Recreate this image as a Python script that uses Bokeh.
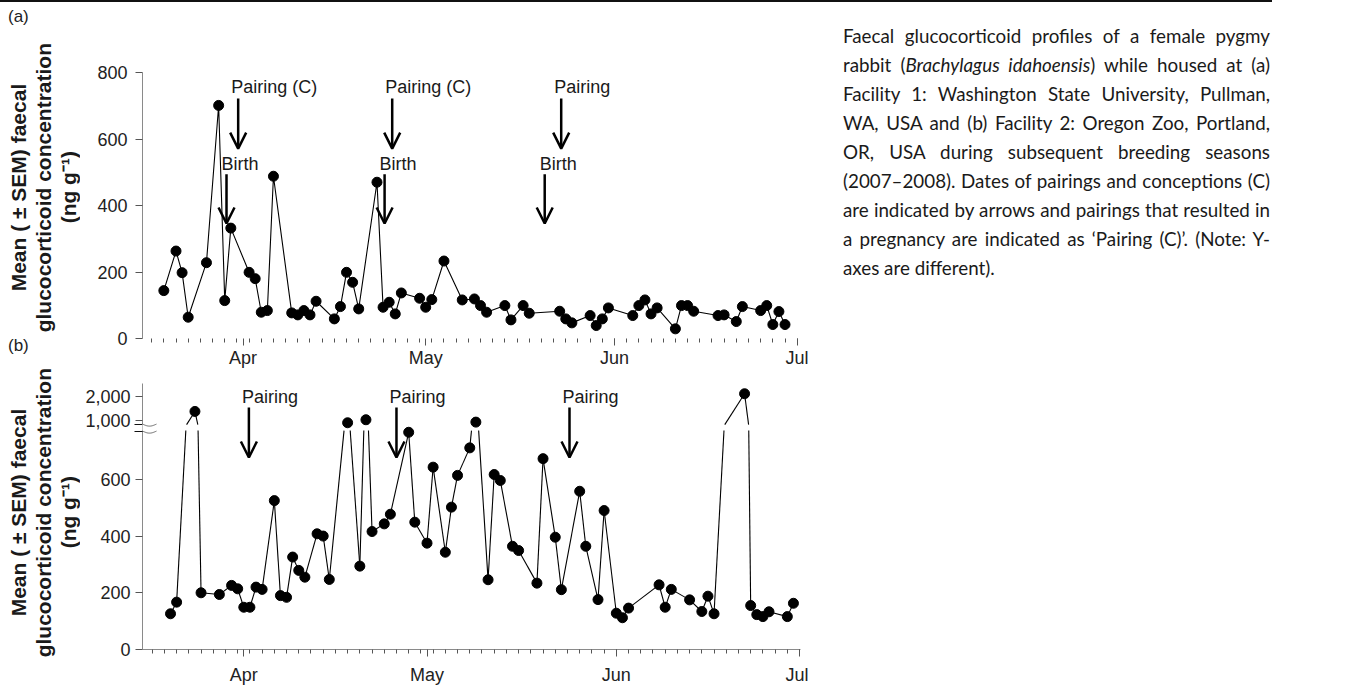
import pandas as pd
from bokeh.plotting import figure
from bokeh.models import (Range1d, FixedTicker, Arrow, OpenHead, Label, PolyAnnotation,
                          Div, DatetimeTickFormatter)
from bokeh.layouts import column, row
from bokeh.embed import file_html
from bokeh.resources import INLINE
import numpy as np

# ---------------- data ----------------
# Panel (a): Facility 1, 2007
a_dates = ["2007-03-19", "2007-03-21", "2007-03-22", "2007-03-23", "2007-03-26", "2007-03-28",
           "2007-03-29", "2007-03-30", "2007-04-02", "2007-04-03", "2007-04-04", "2007-04-05",
           "2007-04-06", "2007-04-09", "2007-04-10", "2007-04-11", "2007-04-12", "2007-04-13",
           "2007-04-16", "2007-04-17", "2007-04-18", "2007-04-19", "2007-04-20", "2007-04-23",
           "2007-04-24", "2007-04-25", "2007-04-26", "2007-04-27", "2007-04-30", "2007-05-01",
           "2007-05-02", "2007-05-04", "2007-05-07", "2007-05-09", "2007-05-10", "2007-05-11",
           "2007-05-14", "2007-05-15", "2007-05-17", "2007-05-18", "2007-05-23", "2007-05-24",
           "2007-05-25", "2007-05-28", "2007-05-29", "2007-05-30", "2007-05-31", "2007-06-04",
           "2007-06-05", "2007-06-06", "2007-06-07", "2007-06-08", "2007-06-11", "2007-06-12",
           "2007-06-13", "2007-06-14", "2007-06-18", "2007-06-19", "2007-06-21", "2007-06-22",
           "2007-06-25", "2007-06-26", "2007-06-27", "2007-06-28", "2007-06-29"]
a_values = [144, 263, 198, 64, 228, 701,
            114, 332, 199, 180, 79, 84,
            488, 77, 71, 84, 71, 112,
            59, 96, 199, 169, 89, 470,
            94, 109, 74, 137, 121, 94,
            117, 233, 116, 119, 99, 79,
            99, 56, 99, 76, 82, 59,
            47, 69, 39, 59, 92, 69,
            99, 116, 74, 92, 29, 99,
            99, 82, 69, 71, 51, 96,
            84, 99, 42, 81, 42]

# Panel (b): Facility 2, 2008
b_dates = ["2008-03-20", "2008-03-21", "2008-03-24", "2008-03-25", "2008-03-28", "2008-03-30",
           "2008-03-31", "2008-04-01", "2008-04-02", "2008-04-03", "2008-04-04", "2008-04-06",
           "2008-04-07", "2008-04-08", "2008-04-09", "2008-04-10", "2008-04-11", "2008-04-13",
           "2008-04-14", "2008-04-15", "2008-04-18", "2008-04-20", "2008-04-21", "2008-04-22",
           "2008-04-24", "2008-04-25", "2008-04-28", "2008-04-29", "2008-05-01", "2008-05-02",
           "2008-05-04", "2008-05-05", "2008-05-06", "2008-05-08", "2008-05-09", "2008-05-11",
           "2008-05-12", "2008-05-13", "2008-05-15", "2008-05-16", "2008-05-19", "2008-05-20",
           "2008-05-22", "2008-05-23", "2008-05-26", "2008-05-27", "2008-05-29", "2008-05-30",
           "2008-06-01", "2008-06-02", "2008-06-03", "2008-06-08", "2008-06-09", "2008-06-10",
           "2008-06-13", "2008-06-15", "2008-06-16", "2008-06-17", "2008-06-22", "2008-06-23",
           "2008-06-24", "2008-06-25", "2008-06-26", "2008-06-29", "2008-06-30"]
b_values = [126, 167, 1372, 200, 194, 226,
            214, 149, 149, 220, 212, 525,
            190, 184, 326, 279, 255, 408,
            400, 247, 900, 294, 1026, 416,
            443, 477, 766, 449, 375, 643,
            343, 502, 614, 711, 927, 246,
            617, 596, 364, 349, 234, 673,
            396, 211, 558, 364, 176, 490,
            128, 112, 146, 228, 149, 212,
            175, 134, 188, 126, 2110, 155,
            123, 116, 133, 116, 163]

# events (arrows)
a_event_labels = ["Pairing (C)", "Birth", "Pairing (C)", "Birth", "Pairing", "Birth"]
a_event_dates = ["2007-03-31 05:00", "2007-03-29 07:00", "2007-04-25 12:00",
                 "2007-04-24 06:00", "2007-05-23 06:00", "2007-05-20 13:00"]
b_event_labels = ["Pairing", "Pairing", "Pairing"]
b_event_dates = ["2008-04-01 20:00", "2008-04-26 00:00", "2008-05-24 08:00"]

a_yticks = [0, 200, 400, 600, 800]
b_yticks_low = [0, 200, 400, 600]
b_yticks_high = [1000, 2000]

caption_lines = [
    "Faecal glucocorticoid profiles of a female pygmy",
    "rabbit (<i>Brachylagus idahoensis</i>) while housed at (a)",
    "Facility 1: Washington State University, Pullman,",
    "WA, USA and (b) Facility 2: Oregon Zoo, Portland,",
    "OR, USA during subsequent breeding seasons",
    "(2007&ndash;2008). Dates of pairings and conceptions (C)",
    "are indicated by arrows and pairings that resulted in",
    "a pregnancy are indicated as &lsquo;Pairing (C)&rsquo;. (Note: Y-",
    "axes are different).",
]

YLABEL_LINES = ["Mean ( \u00b1 SEM) faecal", "glucocorticoid concentration", "(ng g\u207b\u00b9)"]
FONT = "Liberation Sans"
DAY = 86400000.0
LEFT_W = 81             # width of the left strip (panel letters + y titles)
FIG_LEFT = 142 - LEFT_W  # left border of both figures -> frames start at x = 142
PX_DAY_A, PX_DAY_B = 6.09, 6.107


def ms(s):
    return pd.Timestamp(s).value / 1e6


# ---------------- broken axis mapping for (b) ----------------
GAP_LO, GAP_HI = 772.0, 793.0
P1000, K = 808.0, 0.0846
U_VAL = 1000 + (GAP_HI - P1000) / K


def to_plot(v):
    return v if v <= GAP_LO else P1000 + (v - 1000) * K


def style_common(p, xlab_standoff, show_xline, ylab_standoff):
    p.grid.visible = False
    p.outline_line_color = None
    p.background_fill_color = "white"
    p.border_fill_color = "white"
    xa = p.xaxis[0]
    xa.axis_line_color = "#8a8a8a" if show_xline else None
    xa.major_tick_line_color = "#555"
    xa.minor_tick_line_color = "#555"
    xa.major_tick_in = 0
    xa.major_tick_out = 7
    xa.minor_tick_in = 0
    xa.minor_tick_out = 4
    xa.major_label_text_font = FONT
    xa.major_label_text_font_size = "18px"
    xa.major_label_text_color = "#222"
    xa.major_label_standoff = xlab_standoff
    ya = p.yaxis[0]
    ya.axis_line_color = "#8a8a8a"
    ya.major_tick_line_color = "#555"
    ya.minor_tick_line_color = None
    ya.major_tick_in = 0
    ya.major_tick_out = 7
    ya.major_label_text_font = FONT
    ya.major_label_text_font_size = "18px"
    ya.major_label_text_color = "#222"
    ya.major_label_standoff = ylab_standoff


def setup_x(p, year):
    majors = [ms(f"{year}-{m:02d}-01") for m in (4, 5, 6, 7)]
    start = ms(f"{year}-03-15")
    stop = ms(f"{year}-07-01")
    minors = [start + 2 * DAY * i for i in range(60) if start + 2 * DAY * i <= stop]
    p.xaxis[0].ticker = FixedTicker(ticks=majors, minor_ticks=minors)
    p.xaxis[0].formatter = DatetimeTickFormatter(days="%b", months="%b", years="%b",
                                                 hours="%b", minutes="%b")
    p.xaxis[0].major_label_overrides = {int(t): pd.Timestamp(t, unit="ms").strftime("%b")
                                        for t in majors}


# ---------------- panel (a) ----------------
a_start = ms("2007-04-01") - (242.5 - 142) / PX_DAY_A * DAY
a_end = a_start + 658 / PX_DAY_A * DAY
fa = figure(x_axis_type="datetime", frame_width=658, frame_height=266,
            min_border_left=FIG_LEFT, min_border_right=8, min_border_top=70,
            min_border_bottom=28,
            x_range=Range1d(a_start, a_end), y_range=Range1d(0, 800),
            output_backend="svg", toolbar_location=None)
style_common(fa, 2, False, 8)
setup_x(fa, 2007)
fa.yaxis[0].ticker = FixedTicker(ticks=a_yticks)

ax = [ms(d) for d in a_dates]
fa.line(ax, a_values, line_color="black", line_width=1.1)
fa.scatter(ax, a_values, size=10, fill_color="black", line_color="black")

for lab, d in zip(a_event_labels, a_event_dates):
    t = ms(d)
    if lab.startswith("Pairing"):
        ys, ye, yt, off = 722, 571, 755, -7
    else:
        ys, ye, yt, off = 494, 346, 526, -5
    fa.add_layout(Arrow(end=OpenHead(size=16, line_width=2.5, line_color="black"),
                        x_start=t, y_start=ys, x_end=t, y_end=ye,
                        line_width=2.5, line_color="black"))
    fa.add_layout(Label(x=t, y=yt, text=lab, text_font=FONT, text_font_size="18px",
                        text_baseline="middle", text_align="left", x_offset=off,
                        text_color="#1a1a1a"))

# ---------------- panel (b) ----------------
b_start = ms("2008-04-01") - (243.3 - 142) / PX_DAY_B * DAY
b_end = b_start + 658 / PX_DAY_B * DAY
B_TOP = 13
fb = figure(x_axis_type="datetime", frame_width=658, frame_height=266,
            min_border_left=FIG_LEFT, min_border_right=8, min_border_top=B_TOP,
            min_border_bottom=35,
            x_range=Range1d(b_start, b_end), y_range=Range1d(0, 938),
            output_backend="svg", toolbar_location=None)
style_common(fb, 8, True, 4)
setup_x(fb, 2008)

px_per_unit = 266 / 938
P_MID = (GAP_LO + GAP_HI) / 2
HALF = 3.5 / px_per_unit  # half distance between the two break strokes, in plot units
hi_pos = [round(to_plot(v), 1) for v in b_yticks_high]
# the straight left halves of the break strokes are drawn as long minor ticks
fb.yaxis[0].ticker = FixedTicker(ticks=b_yticks_low + hi_pos,
                                 minor_ticks=[P_MID - HALF, P_MID + HALF])
fb.yaxis[0].minor_tick_line_color = "#111"
fb.yaxis[0].minor_tick_in = 0
fb.yaxis[0].minor_tick_out = 8
overrides = {v: str(v) for v in b_yticks_low}
for v, pp in zip(b_yticks_high, hi_pos):
    overrides[pp] = f"{v:,}"
fb.yaxis[0].major_label_overrides = overrides

bx = [ms(d) for d in b_dates]
bp = [to_plot(v) for v in b_values]
seg_x, seg_y = [], []
for i in range(len(bx) - 1):
    t1, v1, t2, v2 = bx[i], b_values[i], bx[i + 1], b_values[i + 1]
    lo1, lo2 = v1 <= GAP_LO, v2 <= GAP_LO
    if lo1 == lo2:
        seg_x.append([t1, t2]); seg_y.append([to_plot(v1), to_plot(v2)])
    else:
        ta = t1 + (GAP_LO - v1) / (v2 - v1) * (t2 - t1)
        tb = t1 + (U_VAL - v1) / (v2 - v1) * (t2 - t1)
        if lo1:
            seg_x.append([t1, ta]); seg_y.append([v1, GAP_LO])
            seg_x.append([tb, t2]); seg_y.append([GAP_HI, to_plot(v2)])
        else:
            seg_x.append([t1, tb]); seg_y.append([to_plot(v1), GAP_HI])
            seg_x.append([ta, t2]); seg_y.append([GAP_LO, v2])
fb.multi_line(seg_x, seg_y, line_color="black", line_width=1.1)
fb.scatter(bx, bp, size=10, fill_color="black", line_color="black")

for lab, d in zip(b_event_labels, b_event_dates):
    t = ms(d)
    fb.add_layout(Arrow(end=OpenHead(size=16, line_width=2.5, line_color="black"),
                        x_start=t, y_start=853, x_end=t, y_end=677,
                        line_width=2.5, line_color="black"))
    fb.add_layout(Label(x=t, y=889, text=lab, text_font=FONT, text_font_size="18px",
                        text_baseline="middle", text_align="left", x_offset=-7,
                        text_color="#1a1a1a"))

# in-frame wavy half of the axis break symbol (canvas units of the lower figure)
ymid_c = B_TOP + (938 - P_MID) * px_per_unit
wx = np.linspace(FIG_LEFT - 1, FIG_LEFT + 14, 16)
wave = 2.0 * np.sin((wx - FIG_LEFT) / 14 * np.pi)
y_top = list(ymid_c - 3.5 + wave)
y_bot = list(ymid_c + 3.5 + wave)
xs_w = list(wx)
fb.add_layout(PolyAnnotation(xs=xs_w + xs_w[::-1], ys=y_top + y_bot[::-1],
                             xs_units="canvas", ys_units="canvas",
                             fill_color="white", fill_alpha=1.0, line_color=None))
for yy in (y_top, y_bot):
    fb.add_layout(PolyAnnotation(xs=xs_w + xs_w[::-1], ys=yy + yy[::-1],
                                 xs_units="canvas", ys_units="canvas",
                                 fill_alpha=0.0, line_color="#111", line_width=1.0))

# ---------------- left strip: panel letters and y-axis titles ----------------
def letter_div(txt, h, pad_top):
    html = (f'<div style="font-family:\'{FONT}\';font-size:17px;line-height:20px;color:#222;'
            f'padding-left:8px;padding-top:{pad_top}px;">{txt}</div>')
    return Div(text=html, width=LEFT_W, height=h, margin=(0, 0, 0, 0))


def ylabel_div(h):
    inner = "<br>".join(YLABEL_LINES)
    html = (f'<div style="width:{LEFT_W}px;height:{h}px;display:flex;align-items:center;'
            f'justify-content:flex-start;padding-left:6px;box-sizing:border-box;">'
            f'<div style="writing-mode:vertical-rl;text-orientation:sideways;'
            f'transform:rotate(180deg);text-align:center;'
            f'font-family:\'{FONT}\';font-weight:bold;font-size:21px;line-height:25px;'
            f'white-space:nowrap;color:#1a1a1a;">{inner}</div></div>')
    return Div(text=html, width=LEFT_W, height=h, margin=(0, 0, 0, 0))


left_col = column(letter_div("(a)", 38, 5), ylabel_div(296), letter_div("(b)", 20, 0),
                  ylabel_div(314), spacing=0)

# ---------------- caption & rule ----------------
rows = []
for i, line in enumerate(caption_lines):
    last = "justify" if i < len(caption_lines) - 1 else "left"
    rows.append(f'<div style="text-align:justify;text-align-last:{last};white-space:nowrap;">{line}</div>')
caption_html = ('<div style="font-family:Lato;font-size:18.8px;line-height:29px;color:#1a1a1a;width:427px;">'
                + "".join(rows) + "</div>")
fig_w = FIG_LEFT + 658 + 8
caption = Div(text=caption_html, width=430, height=280,
              margin=(19, 0, 0, 843 - LEFT_W - fig_w))
rule = Div(text="", width=1272, height=2, margin=(0, 0, 0, 0),
           styles={"background-color": "#111"})

layout = column(rule, row(left_col, column(fa, fb, spacing=0), caption, spacing=0), spacing=0)
open("out.html", "w").write(file_html(layout, INLINE))
